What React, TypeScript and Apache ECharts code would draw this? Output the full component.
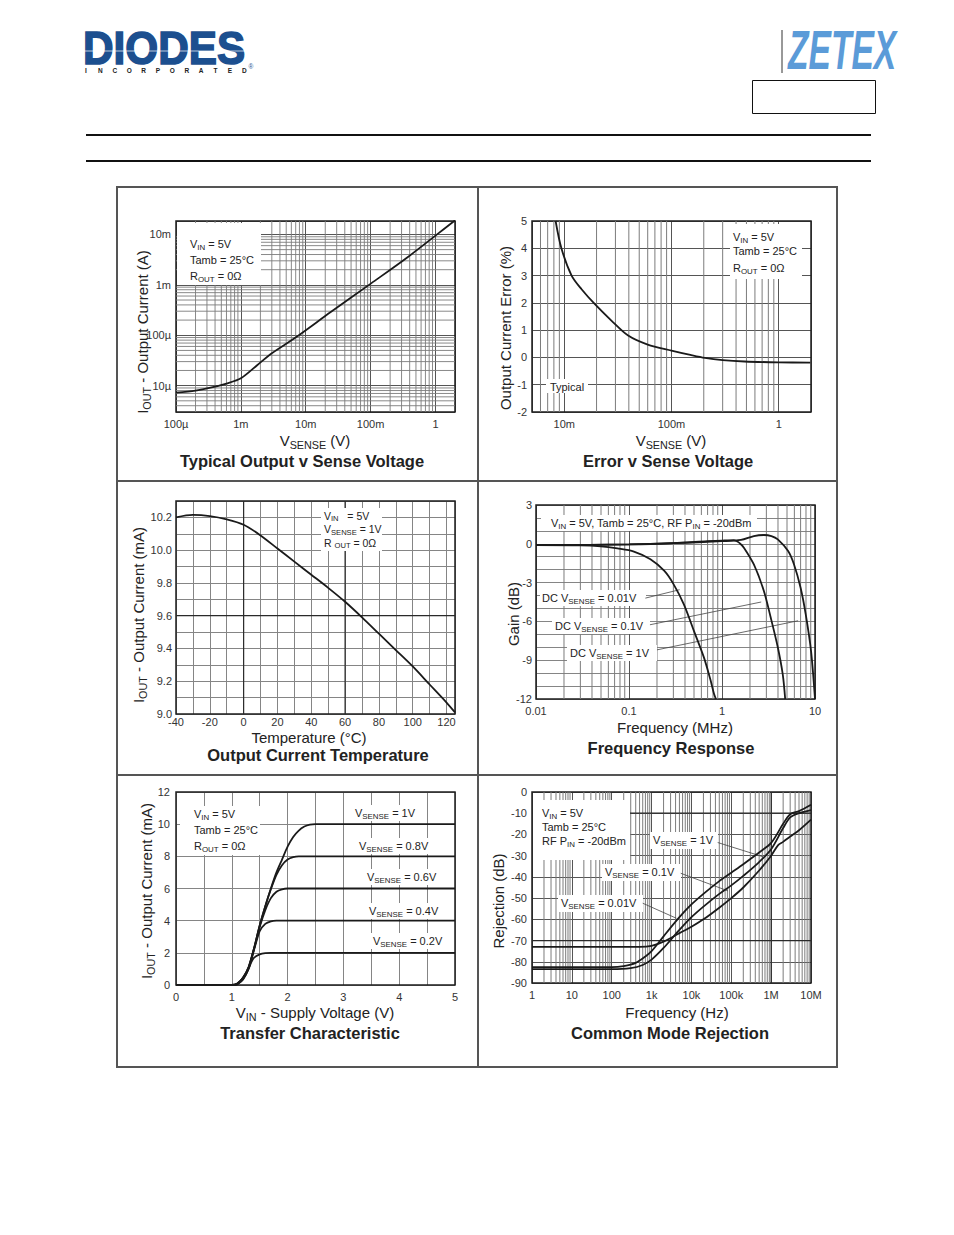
import React, { useEffect, useRef } from 'react';
import * as echarts from 'echarts';

const FONT = '"Liberation Sans", Arial, Helvetica, sans-serif';
const INK = '#222';
const CURVE = '#1a1a1a';
const GRID_MAJOR = '#555555';
const GRID_MINOR = '#7c7c7c';
const GRID_LIN = '#858585';
const GRID_DARK = '#2a2a2a';

// ---------- 1. Typical Output v Sense Voltage ----------
const c1Vsense = [1e-4, 2e-4, 3.4e-4, 6e-4, 1e-3, 1.8e-3, 3e-3, 6.7e-3, 0.0246, 0.102, 0.376, 1.86, 2.0];
const c1Iout = [7.3e-6, 8.0e-6, 9.1e-6, 1.1e-5, 1.4e-5, 2.57e-5, 4.4e-5, 8.7e-5, 2.92e-4, 1.07e-3, 3.58e-3, 1.77e-2, 1.9e-2];
const c1XLabels: Record<string, string> = { '-4': '100µ', '-3': '1m', '-2': '10m', '-1': '100m', '0': '1' };
const c1YLabels: Record<string, string> = { '-5': '10µ', '-4': '100µ', '-3': '1m', '-2': '10m' };

// ---------- 2. Error v Sense Voltage ----------
const c2Vsense = [0.0083, 0.0094, 0.0117, 0.0145, 0.0193, 0.0275, 0.0394, 0.06, 0.1, 0.15, 0.205, 0.3, 0.48, 1, 1.97];
const c2Error = [5, 4, 3, 2.5, 1.95, 1.35, 0.8, 0.47, 0.25, 0.09, -0.02, -0.1, -0.15, -0.18, -0.19];
const c2XLabels: Record<string, string> = { '-2': '10m', '-1': '100m', '0': '1' };

// ---------- 3. Output Current Temperature ----------
const c3Temp = [-40, -30, -20, -10, 0, 10, 20, 30, 40, 50, 60, 70, 80, 90, 100, 110, 120, 125];
const c3Iout = [10.2, 10.215, 10.208, 10.188, 10.155, 10.09, 10.01, 9.93, 9.85, 9.77, 9.685, 9.59, 9.49, 9.39, 9.29, 9.18, 9.07, 9.01];

// ---------- 4. Frequency Response ----------
const c4Freq001 = [0.01, 0.03, 0.05, 0.075, 0.113, 0.17, 0.24, 0.3, 0.39, 0.5, 0.64, 0.75, 0.82, 0.86];
const c4Gain001 = [-0.1, -0.12, -0.2, -0.36, -0.6, -1.2, -2.1, -3.1, -4.7, -6.75, -8.8, -10.5, -11.6, -12];
const c4Freq01 = [0.01, 0.1, 0.3, 0.7, 1.0, 1.34, 1.55, 1.72, 2.2, 2.82, 3.34, 3.98, 4.5, 4.78];
const c4Gain01 = [-0.1, -0.05, 0.05, 0.2, 0.25, 0.28, 0.05, -0.3, -1.6, -3.65, -5.7, -8.0, -10.1, -12];
const c4Freq1 = [0.01, 0.1, 0.3, 1.0, 1.6, 2.2, 2.82, 3.4, 3.98, 5.14, 5.95, 7.0, 7.95, 9.07, 10];
const c4Gain1 = [-0.1, -0.05, 0.05, 0.2, 0.3, 0.6, 0.68, 0.6, 0.34, -0.56, -1.6, -3.4, -5.46, -8.3, -12];
const c4XLabels: Record<string, string> = { '-2': '0.01', '-1': '0.1', '0': '1', '1': '10' };

// ---------- 5. Transfer Characteristic ----------
const c5Vin10 = [0, 1.0, 1.1, 1.2, 1.3, 1.4, 1.5, 1.6, 1.7, 1.8, 1.9, 2.0, 2.1, 2.2, 2.3, 2.4, 2.5, 5];
const c5I10 = [0, 0, 0.1, 0.45, 1.1, 2.3, 3.7, 4.9, 6.0, 7.0, 7.8, 8.6, 9.2, 9.6, 9.85, 9.97, 10, 10];
const c5Vin08 = [0, 1.0, 1.1, 1.2, 1.3, 1.4, 1.5, 1.6, 1.7, 1.8, 1.9, 2.0, 2.1, 2.2, 5];
const c5I08 = [0, 0, 0.1, 0.45, 1.1, 2.3, 3.7, 4.9, 5.95, 6.85, 7.45, 7.8, 7.95, 8, 8];
const c5Vin06 = [0, 1.0, 1.1, 1.2, 1.3, 1.4, 1.5, 1.6, 1.7, 1.8, 1.9, 2.0, 5];
const c5I06 = [0, 0, 0.08, 0.42, 1.05, 2.25, 3.6, 4.65, 5.4, 5.8, 5.95, 6, 6];
const c5Vin04 = [0, 1.05, 1.1, 1.2, 1.3, 1.4, 1.5, 1.6, 1.7, 1.8, 5];
const c5I04 = [0, 0, 0.05, 0.35, 1.0, 2.2, 3.35, 3.8, 3.96, 4, 4];
const c5Vin02 = [0, 1.05, 1.1, 1.2, 1.3, 1.35, 1.4, 1.5, 1.6, 1.7, 5];
const c5I02 = [0, 0, 0.05, 0.35, 1.0, 1.42, 1.7, 1.9, 1.98, 2, 2];

// ---------- 6. Common Mode Rejection ----------
const c6FreqA = [1, 100, 500, 1000, 2000, 5000, 1e4, 2e4, 5e4, 1e5, 2e5, 5e5, 1e6, 1.5e6, 2e6, 3e6, 5e6, 1e7];
const c6RejA = [-73, -73, -73, -72.5, -70.5, -66.5, -63.5, -60, -54.5, -50, -45, -37, -30, -25, -23.5, -21, -18, -13];
const c6FreqB = [1, 100, 200, 400, 700, 1000, 2000, 5000, 1e4, 2e4, 5e4, 1e5, 2e5, 5e5, 1e6, 2e6, 3e6, 5e6, 1e7];
const c6RejB = [-82.5, -82.5, -82, -80.5, -77.5, -75, -68, -59, -53, -48, -42, -38, -34, -28.5, -24, -15, -10.5, -9, -6];
const c6FreqC = [1, 100, 300, 600, 1000, 2000, 5000, 1e4, 2e4, 5e4, 1e5, 2e5, 5e5, 1e6, 2e6, 3e6, 5e6, 1e7];
const c6RejC = [-83.5, -83.5, -83, -81.5, -79, -73.5, -65, -59, -54, -48, -44, -39.5, -33, -27, -17, -12, -10, -8.5];
const c6XLabels: Record<string, string> = { '0': '1', '1': '10', '2': '100', '3': '1k', '4': '10k', '5': '100k', '6': '1M', '7': '10M' };

// ---------- helpers ----------
const logFmt = (map: Record<string, string>) => (v: number) => {
  const e = Math.log10(v);
  const r = Math.round(e);
  return Math.abs(e - r) < 1e-6 ? map[String(r)] ?? '' : '';
};

function minorLog(min: number, max: number): number[] {
  const out: number[] = [];
  for (let e = Math.floor(Math.log10(min)); e <= Math.ceil(Math.log10(max)); e++) {
    for (let m = 2; m <= 9; m++) {
      const v = m * Math.pow(10, e);
      if (v > min * 1.0001 && v < max * 0.9999) out.push(v);
    }
  }
  return out;
}

const Z_BOX = 8;
const Z_CURVE = 9;
const Z_TEXT = 10;

function T(x: number, y: number, text: string, o: any = {}) {
  const fs = o.fs ?? 11;
  const fw = o.bold ? 'bold' : 'normal';
  const color = o.color ?? INK;
  return {
    type: 'text', x, y, z: o.z ?? Z_TEXT, rotation: o.rot ?? 0, silent: true,
    style: {
      text, fill: color, fontSize: fs, fontFamily: FONT, fontWeight: fw,
      align: o.align ?? 'left', verticalAlign: 'middle',
      textAlign: o.align ?? 'left', textVerticalAlign: 'middle',
      lineHeight: Math.round(fs * 1.3),
      rich: {
        s: { fontSize: Math.round(fs * 0.72 * 10) / 10, lineHeight: Math.round(fs * 0.7), verticalAlign: 'bottom', fill: color, fontFamily: FONT, fontWeight: fw },
      },
    },
  };
}
const W = (x: number, y: number, w: number, h: number) => ({ type: 'rect', z: Z_BOX, silent: true, shape: { x, y, width: w, height: h }, style: { fill: '#fff' } });
const L = (x1: number, y1: number, x2: number, y2: number, w: number, color: string, z = 1) => ({ type: 'line', z, silent: true, shape: { x1, y1, x2, y2 }, style: { stroke: color, lineWidth: w } });

const grids = [
  { left: 176, top: 221, width: 279, height: 191 },
  { left: 532, top: 221, width: 279, height: 191 },
  { left: 176, top: 501, width: 279, height: 213 },
  { left: 536, top: 505, width: 279, height: 194 },
  { left: 176, top: 792, width: 279, height: 193 },
  { left: 532, top: 792, width: 279, height: 191 },
];

function axisBase(extra: any) {
  return {
    axisLine: { show: false },
    axisTick: { show: false },
    splitLine: { show: true, lineStyle: { color: GRID_MAJOR, width: 1 } },
    ...extra,
    axisLabel: { color: '#333', fontSize: 11, fontFamily: FONT, ...(extra.axisLabel || {}) },
  };
}

// straight segments [x1, y1, x2, y2] in data space, placed through the axes' scales
function segs(i: number, items: number[][], color: string, width: number, z: number) {
  return {
    type: 'custom', xAxisIndex: i, yAxisIndex: i, data: items, z, silent: true, clip: true,
    dimensions: ['x1', 'y1', 'x2', 'y2'],
    encode: { x: 0, y: 1 },
    renderItem: (_p: any, api: any) => {
      const a = api.coord([api.value(0), api.value(1)]);
      const b = api.coord([api.value(2), api.value(3)]);
      return { type: 'line', shape: { x1: a[0], y1: a[1], x2: b[0], y2: b[1] }, style: { stroke: color, lineWidth: width, fill: null } };
    },
  };
}
const vLines = (xs: number[], yr: number[]) => xs.map((v) => [v, yr[0], v, yr[1]]);
const hLines = (ys: number[], xr: number[]) => ys.map((v) => [xr[0], v, xr[1], v]);

function curve(i: number, xs: number[], ys: number[], smooth = 0.3) {
  return {
    type: 'line', xAxisIndex: i, yAxisIndex: i, data: xs.map((x, k) => [x, ys[k]]),
    showSymbol: false, symbol: 'none', smooth, clip: true, silent: true, z: Z_CURVE,
    lineStyle: { color: CURVE, width: 1.8 }, emphasis: { disabled: true },
  };
}

function buildOption() {
  const linSplit = { show: true, lineStyle: { color: GRID_LIN, width: 1 } };
  const xAxis = [
    axisBase({ type: 'log', logBase: 10, gridIndex: 0, min: 1e-4, max: 2, axisLabel: { formatter: logFmt(c1XLabels), margin: 6 } }),
    axisBase({ type: 'log', logBase: 10, gridIndex: 1, min: 0.005, max: 2, axisLabel: { formatter: logFmt(c2XLabels), margin: 6 } }),
    axisBase({ type: 'value', gridIndex: 2, min: -40, max: 125, interval: 10, splitLine: linSplit,
      axisLabel: { margin: 2, formatter: (v: number) => (Math.round(v) % 20 === 0 && v <= 120 ? String(Math.round(v)) : '') } }),
    axisBase({ type: 'log', logBase: 10, gridIndex: 3, min: 0.01, max: 10, axisLabel: { formatter: logFmt(c4XLabels), margin: 6 } }),
    axisBase({ type: 'value', gridIndex: 4, min: 0, max: 5, interval: 0.5, splitLine: linSplit,
      axisLabel: { margin: 6, formatter: (v: number) => (Math.abs(v - Math.round(v)) < 1e-6 ? String(Math.round(v)) : '') } }),
    axisBase({ type: 'log', logBase: 10, gridIndex: 5, min: 1, max: 1e7, axisLabel: { formatter: logFmt(c6XLabels), margin: 6 } }),
  ];
  const yAxis = [
    axisBase({ type: 'log', logBase: 10, gridIndex: 0, min: 3e-6, max: 0.0185, axisLabel: { formatter: logFmt(c1YLabels), margin: 5 } }),
    axisBase({ type: 'value', gridIndex: 1, min: -2, max: 5, interval: 1, axisLabel: { margin: 5 } }),
    axisBase({ type: 'value', gridIndex: 2, min: 9.0, max: 10.3, interval: 0.1, splitLine: linSplit,
      axisLabel: { margin: 4, formatter: (v: number) => { const k = Math.round(v * 10); return k % 2 === 0 && k <= 102 ? (k / 10).toFixed(1) : ''; } } }),
    axisBase({ type: 'value', gridIndex: 3, min: -12, max: 3, interval: 1, splitLine: linSplit,
      axisLabel: { margin: 4, formatter: (v: number) => (Math.round(v) % 3 === 0 ? String(Math.round(v)) : '') } }),
    axisBase({ type: 'value', gridIndex: 4, min: 0, max: 12, interval: 2, splitLine: linSplit, axisLabel: { margin: 6 } }),
    axisBase({ type: 'value', gridIndex: 5, min: -90, max: 0, interval: 10, axisLabel: { margin: 5 } }),
  ];

  const series: any[] = [
    segs(0, [...vLines(minorLog(1e-4, 2), [3e-6, 0.0185]), ...hLines(minorLog(3e-6, 0.0185), [1e-4, 2])], GRID_MINOR, 0.9, 2),
    segs(1, vLines(minorLog(0.005, 2), [-2, 5]), GRID_MINOR, 1, 2),
    segs(2, [...vLines([0, 60], [9.0, 10.3]), ...hLines([9.6], [-40, 125])], GRID_DARK, 1.2, 2),
    segs(3, vLines(minorLog(0.01, 10), [-12, 3]), GRID_MINOR, 1, 2),
    segs(5, vLines(minorLog(1, 1e7), [-90, 0]), GRID_MINOR, 1, 2),
    segs(5, [...vLines([1e6], [-90, 0]), ...hLines([-10, -70], [1, 1e7])], GRID_DARK, 1.2, 3),
    curve(0, c1Vsense, c1Iout),
    curve(1, c2Vsense, c2Error),
    curve(2, c3Temp, c3Iout),
    curve(3, c4Freq001, c4Gain001),
    curve(3, c4Freq01, c4Gain01),
    curve(3, c4Freq1, c4Gain1),
    curve(4, c5Vin10, c5I10, 0.25),
    curve(4, c5Vin08, c5I08, 0.25),
    curve(4, c5Vin06, c5I06, 0.25),
    curve(4, c5Vin04, c5I04, 0.25),
    curve(4, c5Vin02, c5I02, 0.25),
    curve(5, c6FreqA, c6RejA),
    curve(5, c6FreqB, c6RejB),
    curve(5, c6FreqC, c6RejC),
    segs(3, [
      [0.15, -4.2, 0.35, -3.55],
      [0.168, -6.26, 2.64, -4.5],
      [0.2, -8.2, 6.58, -5.95],
    ], '#444', 0.8, Z_CURVE),
    segs(5, [
      [45600, -23.8, 624000, -30.5],
      [5400, -38.3, 82600, -46.6],
      [599, -52.4, 4200, -59.5],
    ], '#444', 0.8, Z_CURVE),
  ];

  const g: any[] = [];
  // ----- header -----
  g.push({ type: 'text', x: 83, y: 48, scaleX: 0.9, z: Z_TEXT, silent: true,
    style: { text: 'DIODES', fill: '#1c4f8f', stroke: '#1c4f8f', lineWidth: 1.6, fontSize: 47, fontWeight: 'bold', fontFamily: FONT, align: 'left', verticalAlign: 'middle', textAlign: 'left', textVerticalAlign: 'middle' } });
  g.push({ type: 'rect', z: Z_TEXT + 1, silent: true, shape: { x: 84, y: 50.5, width: 165, height: 1.1 }, style: { fill: 'rgba(255,255,255,0.7)' } });
  const inc = 'INCORPORATED';
  for (let k = 0; k < inc.length; k++) {
    g.push(T(86 + k * 14.4, 70.5, inc[k], { fs: 6.5, bold: true, align: 'center' }));
  }
  g.push(T(251, 66, '®', { fs: 6.5, align: 'center', color: '#1c4f8f' }));
  g.push(L(782, 30, 782, 73, 1, '#333'));
  g.push({ type: 'text', x: 788, y: 50, scaleX: 0.6, z: Z_TEXT, silent: true,
    style: { text: 'ZETEX', fill: '#5b9bd8', fontSize: 56, fontWeight: 'bold', fontStyle: 'italic', fontFamily: FONT, align: 'left', verticalAlign: 'middle', textAlign: 'left', textVerticalAlign: 'middle' } });
  g.push({ type: 'rect', z: 1, silent: true, shape: { x: 752.5, y: 80.5, width: 123, height: 33 }, style: { fill: 'none', stroke: '#111', lineWidth: 1 } });
  g.push(L(86, 135, 871, 135, 2.2, '#111'));
  g.push(L(86, 161, 871, 161, 2.2, '#111'));

  // ----- frame -----
  g.push({ type: 'rect', z: 1, silent: true, shape: { x: 117, y: 187, width: 720, height: 880 }, style: { fill: 'none', stroke: '#555', lineWidth: 2 } });
  g.push(L(478, 187, 478, 1067, 2, '#555'));
  g.push(L(117, 481, 837, 481, 2, '#555'));
  g.push(L(117, 775, 837, 775, 2, '#555'));

  // ----- chart 1 -----
  g.push(W(177, 223, 84, 62));
  g.push(T(190, 244, 'V{s|IN} = 5V'));
  g.push(T(190, 260, 'Tamb = 25°C'));
  g.push(T(190, 276, 'R{s|OUT} = 0Ω'));
  g.push(T(315, 440, 'V{s|SENSE} (V)', { fs: 15, align: 'center' }));
  g.push(T(142, 332, 'I{s|OUT} - Output Current (A)', { fs: 15, align: 'center', rot: Math.PI / 2 }));
  g.push(T(302, 461, 'Typical Output v Sense Voltage', { fs: 16.5, bold: true, align: 'center' }));

  // ----- chart 2 -----
  g.push(W(730, 224, 72, 55));
  g.push(T(733, 237, 'V{s|IN} = 5V'));
  g.push(T(733, 251, 'Tamb = 25°C'));
  g.push(T(733, 268, 'R{s|OUT} = 0Ω'));
  g.push(W(546, 379, 42, 14));
  g.push(T(567, 386.5, 'Typical', { align: 'center' }));
  g.push(T(671, 440, 'V{s|SENSE} (V)', { fs: 15, align: 'center' }));
  g.push(T(505, 328, 'Output Current Error (%)', { fs: 15, align: 'center', rot: Math.PI / 2 }));
  g.push(T(668, 461, 'Error v Sense Voltage', { fs: 16.5, bold: true, align: 'center' }));

  // ----- chart 3 -----
  g.push(W(321, 508, 61, 43));
  g.push(T(324, 515.5, 'V{s|IN}   = 5V', { fs: 10.5 }));
  g.push(T(324, 529, 'V{s|SENSE} = 1V', { fs: 10.5 }));
  g.push(T(324, 542.5, 'R {s|OUT} = 0Ω', { fs: 10.5 }));
  g.push(T(309, 737, 'Temperature (°C)', { fs: 15, align: 'center' }));
  g.push(T(138, 615, 'I{s|OUT} - Output Current (mA)', { fs: 15, align: 'center', rot: Math.PI / 2 }));
  g.push(T(318, 755, 'Output Current Temperature', { fs: 16.5, bold: true, align: 'center' }));

  // ----- chart 4 -----
  g.push(W(541, 515, 216, 16));
  g.push(T(551, 523, 'V{s|IN} = 5V, Tamb = 25°C, RF P{s|IN} = -20dBm'));
  g.push(W(540, 590, 106, 16));
  g.push(T(542, 598, 'DC V{s|SENSE} = 0.01V'));
  g.push(W(552, 618, 98, 16));
  g.push(T(555, 626, 'DC V{s|SENSE} = 0.1V'));
  g.push(W(567, 645, 90, 16));
  g.push(T(570, 653, 'DC V{s|SENSE} = 1V'));
  g.push(T(675, 727, 'Frequency (MHz)', { fs: 15, align: 'center' }));
  g.push(T(513, 614, 'Gain (dB)', { fs: 15, align: 'center', rot: Math.PI / 2 }));
  g.push(T(671, 748, 'Frequency Response', { fs: 16.5, bold: true, align: 'center' }));

  // ----- chart 5 -----
  g.push(W(180, 806, 80, 49));
  g.push(T(194, 814, 'V{s|IN} = 5V'));
  g.push(T(194, 829.5, 'Tamb = 25°C'));
  g.push(T(194, 846, 'R{s|OUT} = 0Ω'));
  const c5Labels: [number, number, string][] = [
    [355, 813, 'V{s|SENSE} = 1V'],
    [359, 846, 'V{s|SENSE} = 0.8V'],
    [367, 877, 'V{s|SENSE} = 0.6V'],
    [369, 911, 'V{s|SENSE} = 0.4V'],
    [373, 941, 'V{s|SENSE} = 0.2V'],
  ];
  c5Labels.forEach(([x, y, t]) => { g.push(W(x - 3, y - 8, t.includes('= 1V') ? 66 : 76, 16)); g.push(T(x, y, t)); });
  g.push(T(315, 1012, 'V{s|IN} - Supply Voltage (V)', { fs: 15, align: 'center' }));
  g.push(T(146, 891, 'I{s|OUT} - Output Current (mA)', { fs: 15, align: 'center', rot: Math.PI / 2 }));
  g.push(T(310, 1033, 'Transfer Characteristic', { fs: 16.5, bold: true, align: 'center' }));

  // ----- chart 6 -----
  g.push(W(533, 800, 97, 60));
  g.push(T(542, 813, 'V{s|IN} = 5V'));
  g.push(T(542, 827, 'Tamb = 25°C'));
  g.push(T(542, 841, 'RF P{s|IN} = -20dBm'));
  g.push(W(650, 832, 68, 17));
  g.push(T(653, 840, 'V{s|SENSE} = 1V'));
  g.push(W(602, 864, 79, 17));
  g.push(T(605, 872, 'V{s|SENSE} = 0.1V'));
  g.push(W(558, 895, 85, 17));
  g.push(T(561, 903, 'V{s|SENSE} = 0.01V'));
  g.push(T(677, 1012, 'Frequency (Hz)', { fs: 15, align: 'center' }));
  g.push(T(498, 901, 'Rejection (dB)', { fs: 15, align: 'center', rot: Math.PI / 2 }));
  g.push(T(670, 1033, 'Common Mode Rejection', { fs: 16.5, bold: true, align: 'center' }));

  return {
    animation: false,
    backgroundColor: '#fff',
    textStyle: { fontFamily: FONT },
    grid: grids.map((r) => ({ ...r, show: true, borderColor: '#1e1e1e', borderWidth: 1.5, z: 1, containLabel: false, outerBoundsMode: 'none' })),
    xAxis,
    yAxis,
    series,
    graphic: { elements: g },
  };
}

export default function App() {
  const ref = useRef<HTMLDivElement>(null);
  useEffect(() => {
    const chart = echarts.init(ref.current!, null, { renderer: 'svg' });
    chart.setOption(buildOption() as any);
    return () => chart.dispose();
  }, []);
  return <div ref={ref} style={{ position: 'absolute', left: 0, top: 0, width: 954, height: 1235, background: '#fff' }} />;
}
